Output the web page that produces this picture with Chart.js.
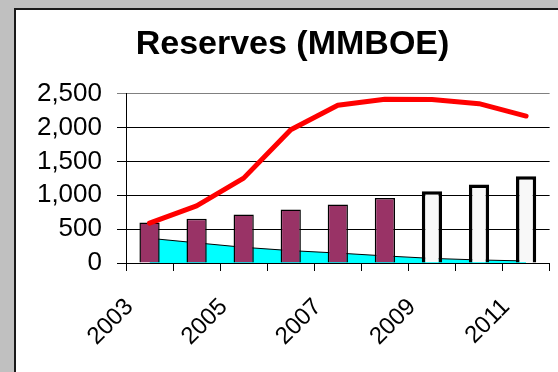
<!DOCTYPE html>
<html>
<head>
<meta charset="utf-8">
<script src="https://cdn.jsdelivr.net/npm/chart.js@4/dist/chart.umd.min.js"></script>
<style>
    body { margin: 0; background: #c0c0c0; overflow: hidden; }
    #bingkai {
        position: absolute; left: 14px; top: 8px;
        width: 600px; height: 400px;
        background: #fff;
        border-left: 2px solid #1a1a1a;
        border-top: 2px solid #1a1a1a;
    }
</style>
</head>
<body>
<div id="bingkai">
    <canvas id="grafikCadangan" width="553" height="362"></canvas>
</div>
<script>
const tahun = ["2003", "2004", "2005", "2006", "2007", "2008", "2009", "2010", "2011"];
// cadangan per tahun (MMBOE); 2009 ke atas adalah proyeksi
const cadangan = [600, 655, 715, 790, 865, 960, 1060, 1160, 1280];
const kumulatif = [590, 845, 1254, 1968, 2330, 2420, 2415, 2354, 2171];
const penurunan = [365, 298, 232, 183, 147, 105, 68, 45, 30];
const tickY = [0, 500, 1000, 1500, 2000, 2500];
const jumlahAktual = 6;

const huruf = "'Liberation Sans', Arial, sans-serif";

new Chart(document.getElementById("grafikCadangan"), {
    type: "bar",
    data: {
        labels: tahun,
        datasets: [
            {
                type: "line",
                data: kumulatif,
                borderColor: "#ff0000",
                borderWidth: 5,
                borderCapStyle: "round",
                borderJoinStyle: "round",
                pointRadius: 0,
                tension: 0,
                fill: false,
                order: 0,
            },
            {
                data: cadangan,
                backgroundColor: tahun.map((t, i) => (i < jumlahAktual ? "#993366" : "#f8f8f8")),
                borderColor: "#000",
                borderWidth: tahun.map((t, i) => (i < jumlahAktual ? 1.5 : 3.5)),
                barPercentage: 0.43,
                categoryPercentage: 1,
                order: 1,
            },
            {
                type: "line",
                data: penurunan,
                borderColor: "#000",
                borderWidth: 1,
                backgroundColor: "#00ffff",
                pointRadius: 0,
                tension: 0,
                fill: "origin",
                order: 2,
            },
        ],
    },
    options: {
        responsive: false,
        animation: false,
        layout: { padding: { left: 10, right: 10, top: 0, bottom: 0 } },
        plugins: {
            legend: { display: false },
            tooltip: { enabled: false },
            title: {
                display: true,
                text: "Reserves (MMBOE)",
                color: "#000",
                font: { family: huruf, size: 34, weight: "bold" },
                padding: { top: 14, bottom: 29 },
            },
        },
        scales: {
            x: {
                grid: {
                    drawOnChartArea: false,
                    drawTicks: true,
                    tickLength: 8,
                    color: "#000",
                },
                border: { color: "#000", width: 1 },
                ticks: {
                    autoSkip: false,
                    maxRotation: 45,
                    minRotation: 45,
                    padding: 22,
                    labelOffset: -20,
                    color: "#000",
                    font: { family: huruf, size: 24 },
                    callback: (v, i) => (i % 2 === 0 ? tahun[i] : ""),
                },
                afterFit: (skala) => { skala.height = 109; },
            },
            y: {
                min: tickY[0],
                max: tickY[tickY.length - 1],
                afterBuildTicks: (skala) => { skala.ticks = tickY.map((v) => ({ value: v })); },
                grid: {
                    color: (ctx) => (ctx.tick && ctx.tick.value === 2500 ? "#808080" : "#000"),
                    tickLength: 9,
                    lineWidth: 1,
                },
                border: { color: "#000", width: 1 },
                ticks: {
                    autoSkip: false,
                    padding: 15,
                    color: "#000",
                    font: { family: huruf, size: 26 },
                    callback: (v) => v.toLocaleString("en-US"),
                },
                afterFit: (skala) => { skala.width = 100; },
            },
        },
    },
});
</script>
</body>
</html>
